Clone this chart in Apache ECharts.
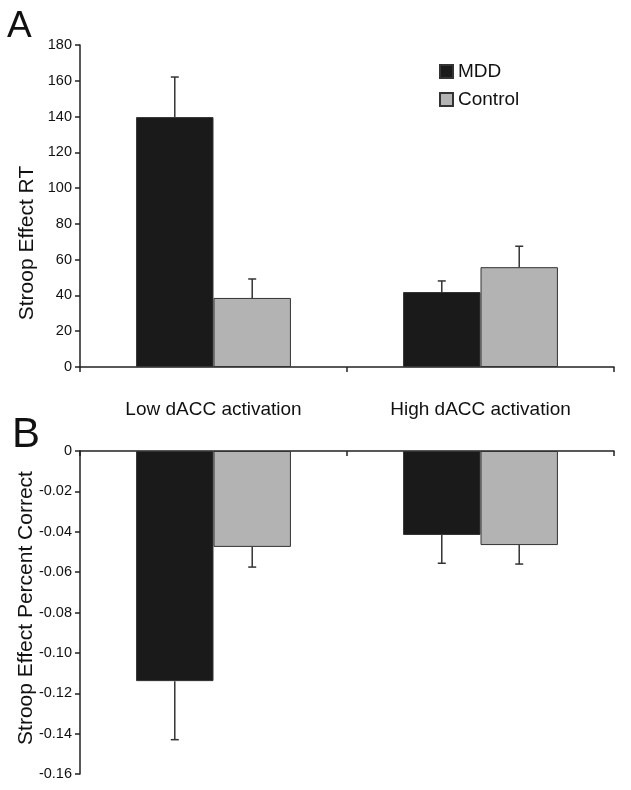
<!DOCTYPE html>
<html>
<head>
<meta charset="utf-8">
<script src="https://cdn.jsdelivr.net/npm/echarts@6/dist/echarts.min.js"></script>
<style>html,body{margin:0;padding:0;background:#fff;}#c{width:631px;height:790px;}</style>
</head>
<body>
<div id="c"></div>
<script>
const categories = ['Low dACC activation', 'High dACC activation'];
const seriesNames = ['MDD', 'Control'];
// Panel A: Stroop effect RT
const rtMDD = [139.7, 41.9];
const rtMDDErr = [22.4, 6.2];
const rtControl = [38.6, 55.8];
const rtControlErr = [10.6, 11.7];
// Panel B: Stroop effect percent correct
const pcMDD = [-0.114, -0.0416];
const pcMDDErr = [0.029, 0.014];
const pcControl = [-0.0475, -0.0466];
const pcControlErr = [0.010, 0.0094];
const rtTicks = {min: 0, max: 180, interval: 20};
const pcTicks = {min: -0.16, max: 0, interval: 0.02};

const colMDD = '#1a1a1a', colCtl = '#b3b3b3', axisCol = '#222', txt = '#111';
const FONT = 'Liberation Sans, Arial, sans-serif';
const BARW = 0.29;

function errData(vals, errs, off) {
  return vals.map((v, i) => [i, v, errs[i], off]);
}
function renderErr(params, api) {
  const cat = api.value(0), v = api.value(1), e = api.value(2), off = api.value(3);
  const band = api.size([1, 0])[0];
  const c = api.coord([cat, v]);
  const end = api.coord([cat, v + (v >= 0 ? e : -e)]);
  const x = c[0] + off * band * BARW / 2;
  const st = {stroke: '#333', lineWidth: 1.5};
  return {type: 'group', children: [
    {type: 'line', shape: {x1: x, y1: c[1], x2: x, y2: end[1]}, style: st},
    {type: 'line', shape: {x1: x - 4, y1: end[1], x2: x + 4, y2: end[1]}, style: st}
  ]};
}
const axisLineStyle = {show: true, onZero: true, lineStyle: {color: axisCol, width: 1.5}};
const chart = echarts.init(document.getElementById('c'));
chart.setOption({
  animation: false,
  backgroundColor: '#fff',
  grid: [
    {left: 80, right: 17, top: 45, bottom: 423},
    {left: 80, right: 17, top: 451, bottom: 16}
  ],
  legend: {
    data: seriesNames, orient: 'vertical', left: 439, top: 62, padding: 0,
    itemWidth: 13, itemHeight: 13, itemGap: 9, icon: 'rect',
    textStyle: {fontSize: 19, color: txt, fontFamily: FONT}
  },
  xAxis: [
    {type: 'category', gridIndex: 0, data: categories, axisLine: axisLineStyle,
     axisTick: {show: true, length: 5, lineStyle: {color: axisCol, width: 1.5}},
     axisLabel: {margin: 33, fontSize: 19, color: txt, fontFamily: FONT}},
    {type: 'category', gridIndex: 1, data: categories, axisLine: axisLineStyle,
     axisTick: {show: true, length: 5, lineStyle: {color: axisCol, width: 1.5}},
     axisLabel: {show: false}}
  ],
  yAxis: [
    {type: 'value', gridIndex: 0, min: rtTicks.min, max: rtTicks.max, interval: rtTicks.interval,
     splitLine: {show: false}, axisLine: {show: true, lineStyle: {color: axisCol, width: 1.5}},
     axisTick: {show: true, length: 5, lineStyle: {color: axisCol, width: 1.5}},
     axisLabel: {margin: 8, fontSize: 14.5, color: txt, fontFamily: FONT}},
    {type: 'value', gridIndex: 1, min: pcTicks.min, max: pcTicks.max, interval: pcTicks.interval,
     splitLine: {show: false}, axisLine: {show: true, lineStyle: {color: axisCol, width: 1.5}},
     axisTick: {show: true, length: 5, lineStyle: {color: axisCol, width: 1.5}},
     axisLabel: {margin: 8, fontSize: 14.5, color: txt, fontFamily: FONT,
       formatter: v => (Math.abs(v) < 1e-9 ? '0' : v.toFixed(2))}}
  ],
  series: [
    {name: 'MDD', type: 'bar', xAxisIndex: 0, yAxisIndex: 0, data: rtMDD, barWidth: (BARW * 100) + '%', barGap: '0%',
     itemStyle: {color: colMDD, borderColor: '#333', borderWidth: 1}},
    {name: 'Control', type: 'bar', xAxisIndex: 0, yAxisIndex: 0, data: rtControl, barWidth: (BARW * 100) + '%', barGap: '0%',
     itemStyle: {color: colCtl, borderColor: '#333', borderWidth: 1}},
    {name: 'MDD', type: 'bar', xAxisIndex: 1, yAxisIndex: 1, data: pcMDD, barWidth: (BARW * 100) + '%', barGap: '0%',
     itemStyle: {color: colMDD, borderColor: '#333', borderWidth: 1}},
    {name: 'Control', type: 'bar', xAxisIndex: 1, yAxisIndex: 1, data: pcControl, barWidth: (BARW * 100) + '%', barGap: '0%',
     itemStyle: {color: colCtl, borderColor: '#333', borderWidth: 1}},
    {type: 'custom', xAxisIndex: 0, yAxisIndex: 0, renderItem: renderErr, z: 5, data: errData(rtMDD, rtMDDErr, -1), encode: {x: 0, y: 1}, silent: true},
    {type: 'custom', xAxisIndex: 0, yAxisIndex: 0, renderItem: renderErr, z: 5, data: errData(rtControl, rtControlErr, 1), encode: {x: 0, y: 1}, silent: true},
    {type: 'custom', xAxisIndex: 1, yAxisIndex: 1, renderItem: renderErr, z: 5, data: errData(pcMDD, pcMDDErr, -1), encode: {x: 0, y: 1}, silent: true},
    {type: 'custom', xAxisIndex: 1, yAxisIndex: 1, renderItem: renderErr, z: 5, data: errData(pcControl, pcControlErr, 1), encode: {x: 0, y: 1}, silent: true}
  ],
  graphic: [
    {type: 'text', left: 7, top: 8, style: {text: 'A', fontSize: 37, fill: txt, fontFamily: FONT}},
    {type: 'text', left: 12, top: 414, style: {text: 'B', fontSize: 42, fill: txt, fontFamily: FONT}},
    {type: 'text', x: 27, y: 243, rotation: Math.PI / 2,
     style: {text: 'Stroop Effect RT', fontSize: 21, fill: txt, align: 'center', verticalAlign: 'middle', fontFamily: FONT}},
    {type: 'text', x: 26, y: 608, rotation: Math.PI / 2,
     style: {text: 'Stroop Effect Percent Correct', fontSize: 21, fill: txt, align: 'center', verticalAlign: 'middle', fontFamily: FONT}}
  ]
});
</script>
</body>
</html>
